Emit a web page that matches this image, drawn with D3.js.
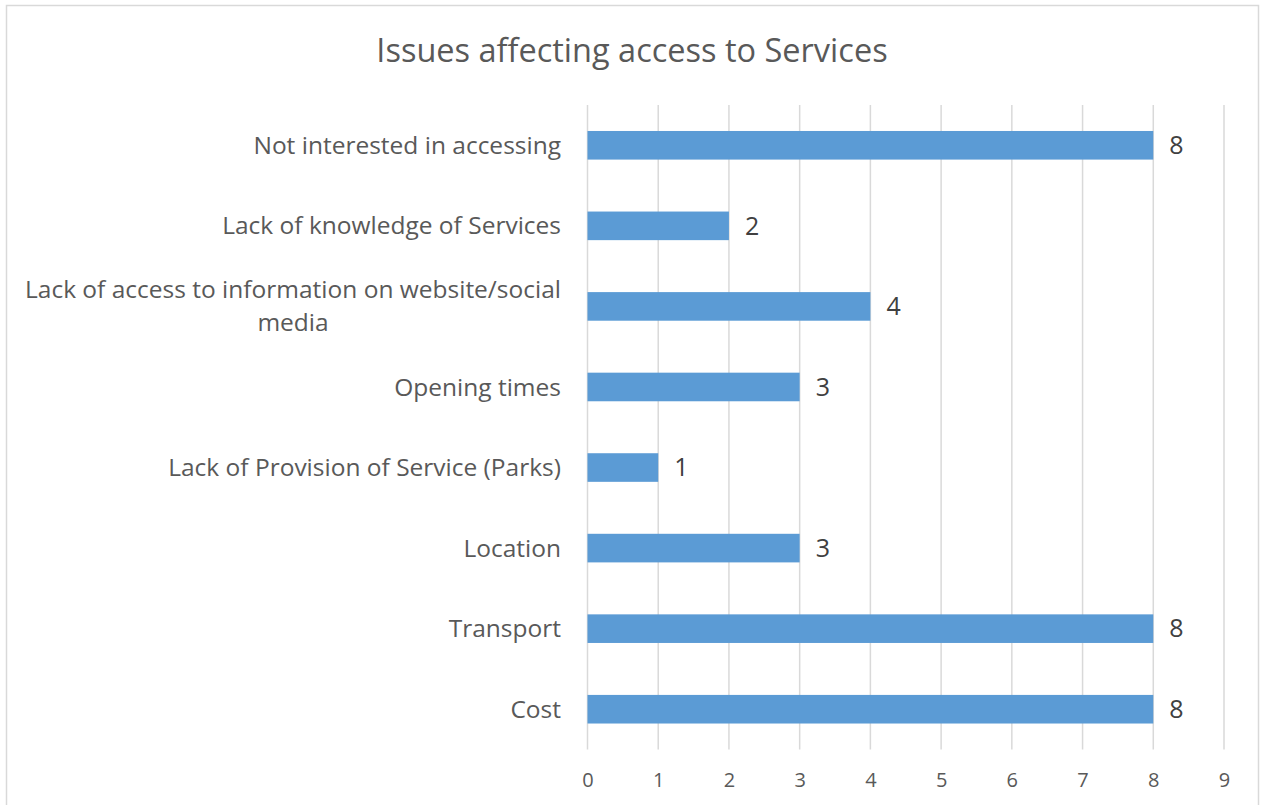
<!DOCTYPE html>
<html>
<head>
<meta charset="utf-8">
<script src="https://cdn.jsdelivr.net/npm/d3@7"></script>
<style>
  html, body { margin: 0; padding: 0; background: #fff; }
  svg { display: block; font-family: "Open Sans", "Noto Sans", sans-serif; }
</style>
</head>
<body>
<svg id="chart" width="1261" height="805"></svg>
<script>
// Survey responses: issues affecting access to services (top to bottom)
const categories = [
  "Not interested in accessing",
  "Lack of knowledge of Services",
  "Lack of access to information on website/social media",
  "Opening times",
  "Lack of Provision of Service (Parks)",
  "Location",
  "Transport",
  "Cost"
];
const counts = [8, 2, 4, 3, 1, 3, 8, 8];
const xTicks = [0, 1, 2, 3, 4, 5, 6, 7, 8, 9];
const chartTitle = "Issues affecting access to Services";

const svg = d3.select("#chart");
const textColor = "#595959";
const gridColor = "#d9d9d9";
const barColor = "#5b9bd5";
const catFont = 24.5;

// outer chart border
svg.append("rect")
  .attr("x", 6.5).attr("y", 5.5)
  .attr("width", 1252).attr("height", 806)
  .attr("fill", "#fff")
  .attr("stroke", "#d9d9d9").attr("stroke-width", 1.5);

const plot = { left: 587.5, right: 1224, top: 105, bottom: 749.5 };

const x = d3.scaleLinear().domain([0, 9]).range([plot.left, plot.right]);
const y = d3.scaleBand().domain(categories)
  .range([plot.top, plot.bottom])
  .paddingInner(0.645).paddingOuter(0.3225);

// title
svg.append("text")
  .attr("x", 632).attr("y", 62)
  .attr("text-anchor", "middle")
  .attr("fill", textColor)
  .attr("font-size", 32.5)
  .text(chartTitle);

// vertical gridlines
svg.append("g").selectAll("line")
  .data(xTicks).join("line")
  .attr("x1", d => x(d)).attr("x2", d => x(d))
  .attr("y1", plot.top).attr("y2", plot.bottom)
  .attr("stroke", gridColor).attr("stroke-width", 1.5);

// x axis tick labels
const xAxis = d3.axisBottom(x).tickValues(xTicks).tickSize(0).tickPadding(0);
const gx = svg.append("g")
  .attr("transform", `translate(0,${plot.bottom + 23})`)
  .call(xAxis);
gx.select(".domain").remove();
gx.selectAll("text")
  .attr("fill", textColor)
  .attr("font-size", 20)
  .attr("font-family", "\"Open Sans\", \"Noto Sans\", sans-serif");

// bars
svg.append("g").selectAll("rect")
  .data(categories).join("rect")
  .attr("x", x(0))
  .attr("y", d => y(d))
  .attr("width", (d, i) => x(counts[i]) - x(0))
  .attr("height", y.bandwidth())
  .attr("fill", barColor);

// value labels
svg.append("g").selectAll("text")
  .data(categories).join("text")
  .attr("x", (d, i) => x(counts[i]) + 16)
  .attr("y", d => y(d) + y.bandwidth() / 2)
  .attr("dy", "0.35em")
  .attr("fill", "#404040")
  .attr("font-size", 25)
  .text((d, i) => counts[i]);

// category labels, wrapping long ones into centred lines
const wrapWidth = 545;
const labelRight = 561;
const lineH = 33;
const measure = svg.append("text").attr("font-size", catFont).attr("visibility", "hidden");
function wrap(str) {
  const words = str.split(" ");
  const lines = [];
  let cur = "";
  words.forEach(w => {
    const trial = cur ? cur + " " + w : w;
    measure.text(trial);
    if (measure.node().getComputedTextLength() > wrapWidth && cur) {
      lines.push(cur); cur = w;
    } else cur = trial;
  });
  if (cur) lines.push(cur);
  return lines;
}

const labels = svg.append("g");
categories.forEach(c => {
  const lines = wrap(c);
  const g = labels.append("text")
    .attr("fill", textColor)
    .attr("font-size", catFont);
  const widths = lines.map(l => { measure.text(l); return measure.node().getComputedTextLength(); });
  const maxW = d3.max(widths);
  const cx = labelRight - maxW / 2;
  const cy = y(c) + y.bandwidth() / 2;
  lines.forEach((l, i) => {
    g.append("tspan")
      .attr("x", cx)
      .attr("text-anchor", "middle")
      .attr("y", cy + (i - (lines.length - 1) / 2) * lineH)
      .attr("dy", "0.35em")
      .text(l);
  });
});
measure.remove();
</script>
</body>
</html>
